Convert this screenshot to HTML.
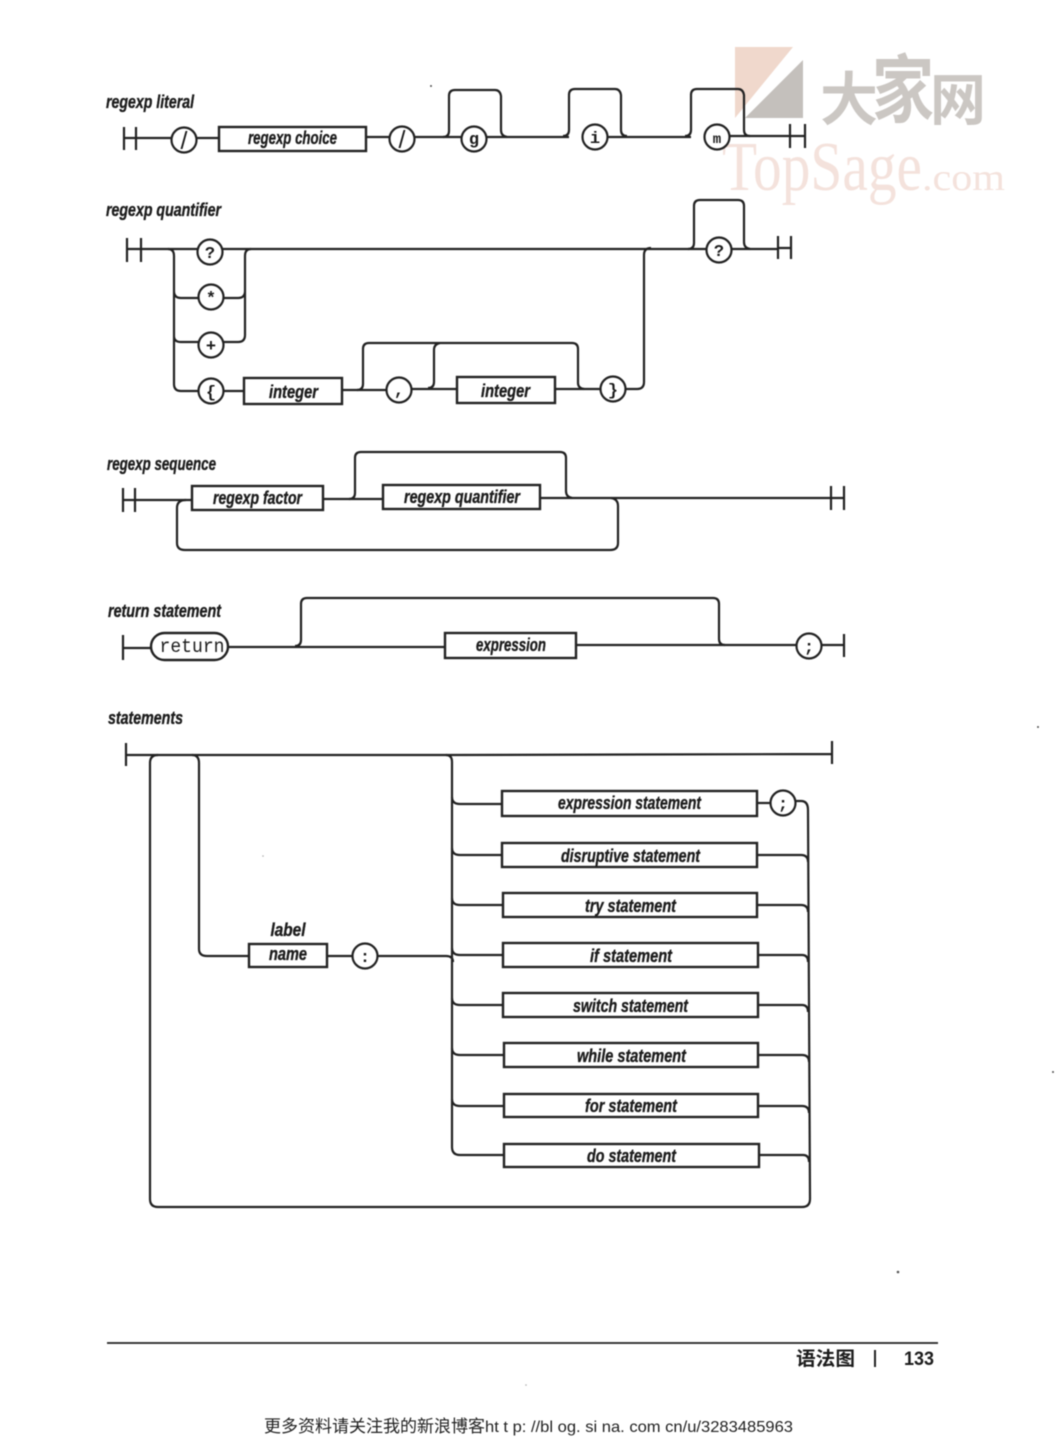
<!DOCTYPE html>
<html><head><meta charset="utf-8">
<style>
html,body{margin:0;padding:0;background:#fff;width:1057px;height:1441px;overflow:hidden}
svg{display:block;filter:blur(0.4px)}
.l{fill:none;stroke:#222;stroke-width:2.2}
.b{fill:#fff;stroke:#222;stroke-width:2.4}
.c{fill:#fff;stroke:#222;stroke-width:2.2}
text{font-family:"Liberation Sans","Noto Sans CJK SC",sans-serif;fill:#1c1c1c}
.t{font-weight:bold;font-style:italic;font-size:18px;stroke:#1c1c1c;stroke-width:.35}
.m{font-size:25px;text-anchor:middle}
.s{font-family:"Liberation Mono",monospace;font-weight:bold;font-size:17px;text-anchor:middle}
.w{font-family:"Noto Sans CJK SC",sans-serif;font-weight:bold;fill:#cbc7c3}
</style></head>
<body>
<svg width="1057" height="1441" viewBox="0 0 1057 1441" xmlns="http://www.w3.org/2000/svg">
<!-- watermark -->
<polygon points="735,47 793,47 735,118" fill="#f0d8cc"/>
<polygon points="803,60 803,118 745,118" fill="#c4c0bc"/>
<text class="w" x="820" y="120" font-size="58">大</text>
<text class="w" x="872" y="116" font-size="74" textLength="62" lengthAdjust="spacingAndGlyphs">家</text>
<text class="w" x="930" y="120" font-size="56">网</text>
<text x="722" y="190" font-size="70" style="font-family:'Liberation Serif',serif;fill:#f4e2dc" textLength="200" lengthAdjust="spacingAndGlyphs">TopSage</text>
<text x="922" y="190" font-size="38" style="font-family:'Liberation Serif',serif;fill:#f4e2dc" textLength="83" lengthAdjust="spacingAndGlyphs">.com</text>

<!-- specks -->
<g fill="#555"><circle cx="431" cy="86" r="1"/><circle cx="1038" cy="727" r="1"/><circle cx="1053" cy="1072" r="1"/><circle cx="898" cy="1272" r="1.3"/><circle cx="526" cy="1385" r=".8" fill="#aaa"/><circle cx="263" cy="856" r=".8" fill="#aaa"/></g>

<!-- regexp literal -->
<text class="t" x="106" y="108" textLength="88" lengthAdjust="spacingAndGlyphs">regexp literal</text>
<path class="l" d="M124,127V150M136,127V150M124,138H172M197,138H219M366,137H390M414,137H461M487,137H569M608,137H691M730,136H790M790,124V148M805,124V148M790,136H805"/>
<path class="l" d="M443,137q6,0 6,-6V96q0,-6 6,-6H495q5,0 6,6V130q0,6 6,7"/>
<path class="l" d="M563,136q6,0 6,-6V95q0,-6 6,-6H615q5,0 6,6V130q0,6 6,6"/>
<path class="l" d="M685,136q6,0 6,-6V95q0,-6 6,-6H738q5,0 6,6V130q0,6 6,6"/>
<rect class="b" x="219" y="127" width="147" height="24"/>
<text class="t" x="248" y="144" textLength="89" lengthAdjust="spacingAndGlyphs">regexp choice</text>
<circle class="c" cx="184" cy="140" r="12.5"/><text class="m" x="184" y="149">/</text>
<circle class="c" cx="402" cy="139" r="12.5"/><text class="m" x="402" y="148">/</text>
<circle class="c" cx="474" cy="139" r="12.5"/><text class="s" x="474" y="144">g</text>
<circle class="c" cx="595" cy="137" r="12.5"/><text class="s" x="595" y="143">i</text>
<circle class="c" cx="717" cy="137" r="12.5"/><text class="s" x="717" y="143" style="font-size:14px">m</text>

<!-- regexp quantifier -->
<text class="t" x="106" y="216" textLength="115" lengthAdjust="spacingAndGlyphs">regexp quantifier</text>
<path class="l" d="M127,238V262M141,238V262M127,249H706M732,249H778M778,236V259M791,236V259M778,248H791"/>
<path class="l" d="M168,249q6,0 6,7V384q0,7 7,7H199M174,291q0,7 7,7H199M174,336q0,6 7,6H199"/>
<path class="l" d="M251,249q-6,0 -6,7V335q0,7 -7,7H223M245,291q0,7 -7,7H223"/>
<path class="l" d="M223,391H244M342,390H387M411,389H457M555,389H601M625,389H637q7,0 7,-7V255q0,-7 7,-7"/>
<path class="l" d="M357,390q6,0 6,-6V349q0,-6 6,-6H572q6,0 6,6V383q0,5 6,6M428,388q6,0 6,-6V350q0,-6 6,-7"/>
<path class="l" d="M688,249q6,0 6,-6V206q0,-6 6,-6H738q6,0 6,6V242q0,6 6,7"/>
<rect class="b" x="244" y="378" width="98" height="26"/>
<rect class="b" x="457" y="377" width="98" height="26"/>
<text class="t" x="269" y="398" textLength="49" lengthAdjust="spacingAndGlyphs">integer</text>
<text class="t" x="481" y="397" textLength="49" lengthAdjust="spacingAndGlyphs">integer</text>
<circle class="c" cx="210" cy="252" r="12.5"/><text class="s" x="210" y="258">?</text>
<circle class="c" cx="211" cy="297" r="12.5"/><text class="s" x="211" y="303">*</text>
<circle class="c" cx="211" cy="345" r="12.5"/><text class="s" x="211" y="351">+</text>
<circle class="c" cx="211" cy="391" r="12.5"/><text class="s" x="211" y="397">{</text>
<circle class="c" cx="399" cy="390" r="12.5"/><text class="s" x="399" y="395">,</text>
<circle class="c" cx="613" cy="389" r="12.5"/><text class="s" x="613" y="395">}</text>
<circle class="c" cx="719" cy="250" r="12.5"/><text class="s" x="719" y="256">?</text>

<!-- regexp sequence -->
<text class="t" x="107" y="470" textLength="109" lengthAdjust="spacingAndGlyphs">regexp sequence</text>
<path class="l" d="M123,488V512M135,488V512M123,500H192M323,499H383M540,498H844M831,486V510M844,486V510"/>
<path class="l" d="M349,499q6,0 6,-6V458q0,-6 6,-6H560q6,0 6,6V491q0,6 6,7"/>
<path class="l" d="M186,500q-9,0 -9,8V543q0,7 8,7H610q8,0 8,-7V506q0,-7 -7,-8"/>
<rect class="b" x="192" y="486" width="131" height="24"/>
<rect class="b" x="383" y="485" width="157" height="24"/>
<text class="t" x="213" y="504" textLength="89" lengthAdjust="spacingAndGlyphs">regexp factor</text>
<text class="t" x="404" y="503" textLength="116" lengthAdjust="spacingAndGlyphs">regexp quantifier</text>

<!-- return statement -->
<text class="t" x="108" y="617" textLength="113" lengthAdjust="spacingAndGlyphs">return statement</text>
<path class="l" d="M123,635V660M123,648H151M228,647H445M576,645H796M821,645H844M844,634V657"/>
<path class="l" d="M295,646q6,0 6,-6V604q0,-6 6,-6H713q6,0 6,6V639q0,6 6,6"/>
<rect class="b" x="151" y="633" width="77" height="27" rx="13.5"/>
<text x="192" y="652" text-anchor="middle" style="font-family:'Liberation Mono',monospace;font-size:19px" textLength="65" lengthAdjust="spacingAndGlyphs">return</text>
<rect class="b" x="445" y="633" width="131" height="25"/>
<text class="t" x="476" y="651" textLength="70" lengthAdjust="spacingAndGlyphs">expression</text>
<circle class="c" cx="809" cy="646" r="12.5"/><text class="s" x="809" y="652">;</text>

<!-- statements -->
<text class="t" x="108" y="724" textLength="75" lengthAdjust="spacingAndGlyphs">statements</text>
<path class="l" d="M126,743V766M126,755H450L832,754M832,741V764"/>
<path class="l" d="M158,755q-8,0 -8,8V1199q0,8 8,8H802q8,0 8,-8L808,810q0,-9 -7,-9H795M192,755q7,0 7,8V949q0,7 8,7H249M327,956H353M378,956H446q7,0 7,6"/>
<path class="l" d="M446,755q6,0 6,7V1147q0,8 8,8H503"/>
<path class="l" d="M452,797q0,7 8,7H502M452,848q0,7 8,7H502M452,898q0,7 8,7H503M452,948q0,7 8,7H503M452,998q0,7 8,7H503M452,1048q0,7 8,7H503M452,1099q0,7 8,7H503"/>
<path class="l" d="M757,803H771"/>
<path class="l" d="M757,855H801q7,0 7,7M757,905H801q7,0 7,7M758,955H802q6,0 6,7M758,1005H802q6,0 6,7M758,1055H802q7,0 7,7M758,1106H802q7,0 7,7M758,1155H803q6,0 6,7"/>
<rect class="b" x="249" y="944" width="78" height="23"/>
<text x="288" y="936" text-anchor="middle" class="t" textLength="35" lengthAdjust="spacingAndGlyphs">label</text>
<text x="288" y="960" text-anchor="middle" class="t" textLength="38" lengthAdjust="spacingAndGlyphs">name</text>
<circle class="c" cx="365" cy="956" r="12.5"/><text class="s" x="365" y="962">:</text>

<rect class="b" x="502" y="791" width="255" height="25"/>
<rect class="b" x="502" y="843" width="255" height="24"/>
<rect class="b" x="503" y="893" width="254" height="24"/>
<rect class="b" x="503" y="943" width="255" height="24"/>
<rect class="b" x="503" y="993" width="255" height="24"/>
<rect class="b" x="504" y="1043" width="254" height="24"/>
<rect class="b" x="504" y="1094" width="254" height="23"/>
<rect class="b" x="504" y="1144" width="255" height="23"/>
<text class="t" x="558" y="809" textLength="143" lengthAdjust="spacingAndGlyphs">expression statement</text>
<text class="t" x="561" y="862" textLength="139" lengthAdjust="spacingAndGlyphs">disruptive statement</text>
<text class="t" x="585" y="912" textLength="91" lengthAdjust="spacingAndGlyphs">try statement</text>
<text class="t" x="590" y="962" textLength="82" lengthAdjust="spacingAndGlyphs">if statement</text>
<text class="t" x="573" y="1012" textLength="115" lengthAdjust="spacingAndGlyphs">switch statement</text>
<text class="t" x="577" y="1062" textLength="109" lengthAdjust="spacingAndGlyphs">while statement</text>
<text class="t" x="585" y="1112" textLength="92" lengthAdjust="spacingAndGlyphs">for statement</text>
<text class="t" x="587" y="1162" textLength="89" lengthAdjust="spacingAndGlyphs">do statement</text>
<circle class="c" cx="783" cy="803" r="12.5"/><text class="s" x="783" y="809">;</text>

<!-- footer -->
<path d="M107,1343H938" stroke="#222" stroke-width="1.8" fill="none"/>
<text x="796" y="1365" font-size="19" font-weight="bold" textLength="59" lengthAdjust="spacingAndGlyphs">语法图</text>
<path d="M875,1350V1367" stroke="#222" stroke-width="2" fill="none"/>
<text x="904" y="1365" font-size="19" font-weight="bold" textLength="30" lengthAdjust="spacingAndGlyphs">133</text>
<text x="264" y="1432" font-size="17" textLength="221" lengthAdjust="spacingAndGlyphs" style="fill:#222">更多资料请关注我的新浪博客</text>
<text x="485" y="1432" font-size="16" textLength="308" lengthAdjust="spacingAndGlyphs" style="fill:#222">ht t p: //bl og. si na. com cn/u/3283485963</text>
</svg>
</body></html>
